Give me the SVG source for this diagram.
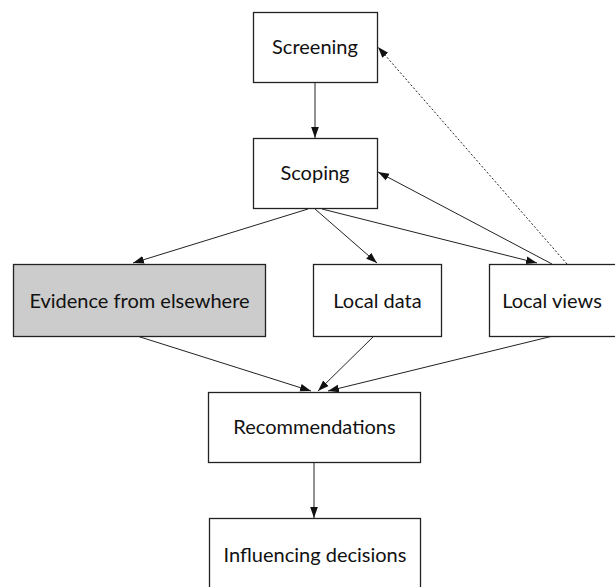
<svg xmlns="http://www.w3.org/2000/svg" width="615" height="587" viewBox="0 0 615 587">
<style>
.box{fill:#fff;stroke:#222;stroke-width:1.3}
.grey{fill:#cccccc}
.lbl{font-family:Lato,"Liberation Sans",sans-serif;font-size:20px;font-weight:400;fill:#111;text-anchor:middle}
.c{stroke:#222;stroke-width:1;fill:none}
.dot{stroke-dasharray:2,2}
</style>
<defs>
<marker id="ah" viewBox="0 0 10 10" refX="10" refY="5" markerWidth="11" markerHeight="11" markerUnits="userSpaceOnUse" orient="auto">
<path d="M0,1.5 L10,5 L0,8.5 z" fill="#111"/>
</marker>
</defs>
<rect width="615" height="587" fill="#fff"/>
<g id="connectors">
<line class="c" x1="315" y1="82" x2="315" y2="138" marker-end="url(#ah)"/>
<line class="c" x1="308" y1="209" x2="133" y2="263" marker-end="url(#ah)"/>
<line class="c" x1="315" y1="209" x2="377" y2="263" marker-end="url(#ah)"/>
<line class="c" x1="322" y1="209" x2="537" y2="263" marker-end="url(#ah)"/>
<line class="c" x1="552" y1="264" x2="378" y2="172" marker-end="url(#ah)"/>
<line class="c dot" x1="567" y1="264" x2="378" y2="47" marker-end="url(#ah)"/>
<line class="c" x1="137" y1="336" x2="311" y2="391" marker-end="url(#ah)"/>
<line class="c" x1="374" y1="336" x2="318" y2="391" marker-end="url(#ah)"/>
<line class="c" x1="553" y1="336" x2="328" y2="391" marker-end="url(#ah)"/>
<line class="c" x1="314" y1="462" x2="314" y2="518" marker-end="url(#ah)"/>
</g>
<g id="screening">
<rect class="box" x="253.5" y="12.5" width="124" height="70"/>
<text class="lbl" x="315" y="54">Screening</text>
</g>
<g id="scoping">
<rect class="box" x="253.5" y="138.5" width="124" height="70"/>
<text class="lbl" x="315" y="180">Scoping</text>
</g>
<g id="evidence">
<rect class="box grey" x="13.5" y="264.5" width="252" height="72"/>
<text class="lbl" x="139.5" y="308">Evidence from elsewhere</text>
</g>
<g id="localdata">
<rect class="box" x="313.5" y="264.5" width="128" height="72"/>
<text class="lbl" x="377.5" y="308">Local data</text>
</g>
<g id="localviews">
<rect class="box" x="489.5" y="264.5" width="127" height="72"/>
<text class="lbl" x="552" y="308">Local views</text>
</g>
<g id="recommendations">
<rect class="box" x="208.5" y="392.5" width="212" height="70"/>
<text class="lbl" x="314.5" y="434">Recommendations</text>
</g>
<g id="influencing">
<rect class="box" x="209.5" y="518.5" width="211" height="80"/>
<text class="lbl" x="315" y="562">Influencing decisions</text>
</g>
</svg>
